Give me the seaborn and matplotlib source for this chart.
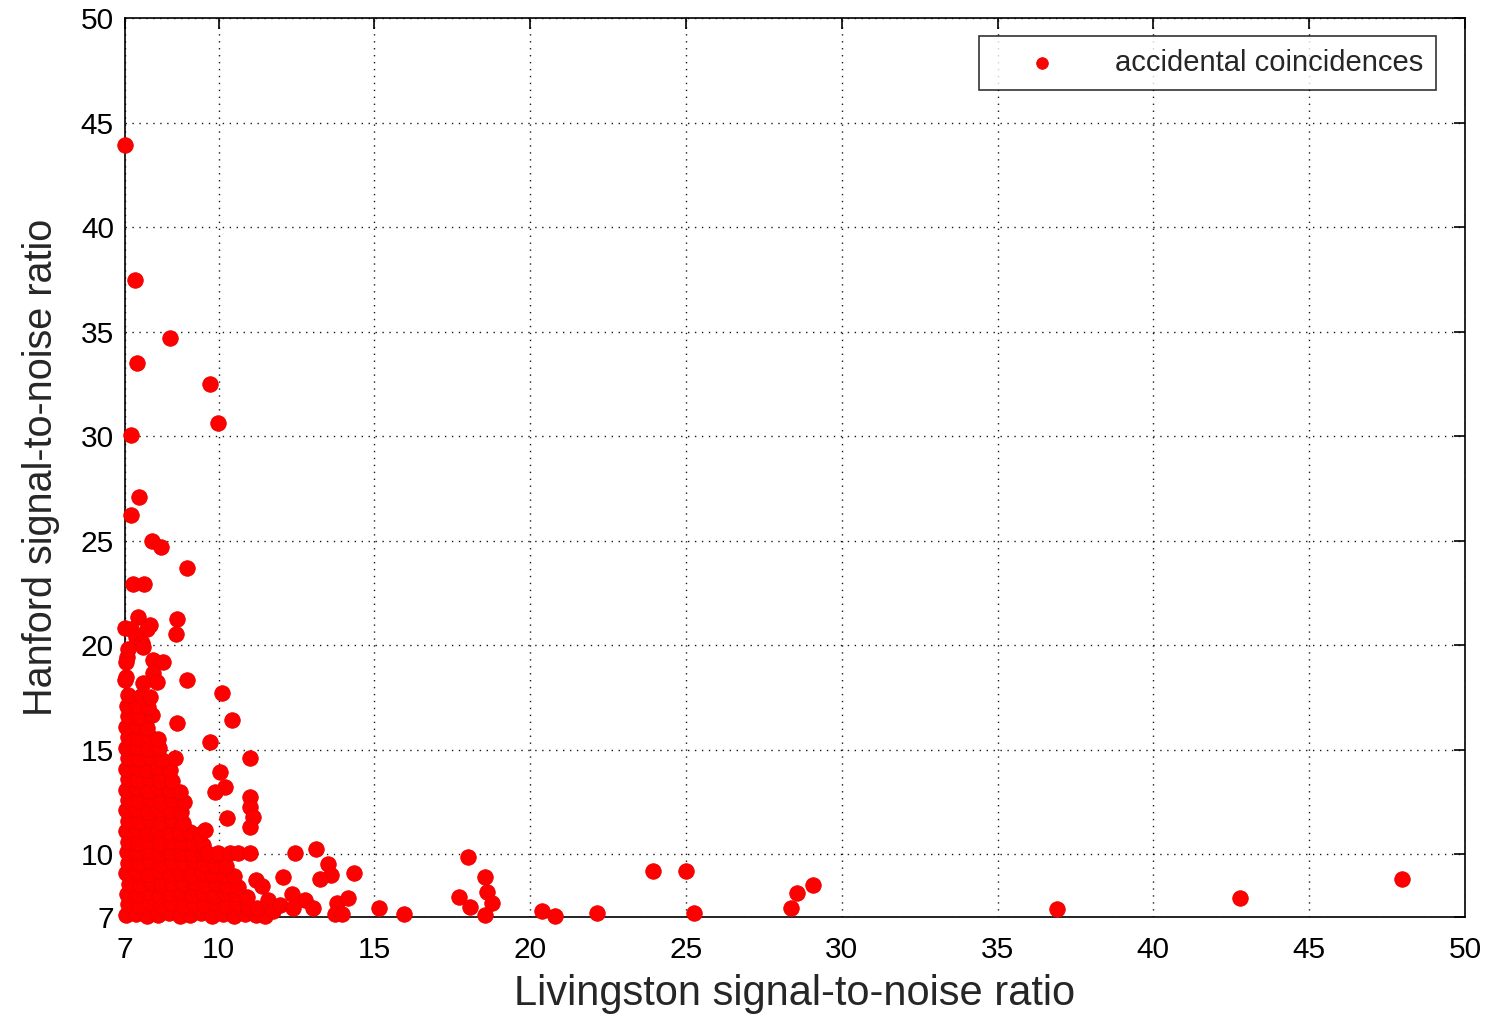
import matplotlib
matplotlib.use("Agg")
import matplotlib.pyplot as plt
import seaborn as sns
import pandas as pd

# ---- data (SNR values) ----
# dense cluster near threshold, row by row
cluster_x = [
    7.02, 7.35, 7.70, 8.05, 8.40, 8.75, 9.10, 9.45, 9.80, 10.15, 10.50, 10.85, 11.20, 11.50,
    7.10, 7.45, 7.80, 8.15, 8.50, 8.85, 9.20, 9.55, 9.90, 10.25, 10.60, 10.95, 11.25,
    7.05, 7.40, 7.75, 8.10, 8.45, 8.80, 9.15, 9.50, 9.85, 10.20, 10.55, 10.90,
    7.12, 7.47, 7.82, 8.17, 8.52, 8.87, 9.22, 9.57, 9.92, 10.27, 10.62,
    7.03, 7.38, 7.73, 8.08, 8.43, 8.78, 9.13, 9.48, 9.83, 10.18, 10.50,
    7.10, 7.45, 7.80, 8.15, 8.50, 8.85, 9.20, 9.55, 9.90, 10.25,
    7.05, 7.40, 7.75, 8.10, 8.45, 8.80, 9.15, 9.50, 9.80,
    7.08, 7.43, 7.78, 8.13, 8.48, 8.83, 9.18, 9.50,
    7.02, 7.37, 7.72, 8.07, 8.42, 8.77, 9.10, 9.40,
    7.10, 7.45, 7.80, 8.15, 8.50, 8.85,
    7.04, 7.39, 7.74, 8.09, 8.44, 8.80,
    7.10, 7.45, 7.80, 8.15, 8.50, 8.90,
    7.03, 7.38, 7.73, 8.08, 8.43, 8.75,
    7.08, 7.43, 7.78, 8.13, 8.50,
    7.02, 7.37, 7.72, 8.07, 8.45,
    7.10, 7.45, 7.80, 8.20, 8.60,
    7.04, 7.39, 7.74, 8.10,
    7.08, 7.43, 7.78, 8.05,
    7.02, 7.37, 7.72,
    7.10, 7.45, 7.85,
    7.05, 7.40, 7.75,
    7.10, 7.50,
]
cluster_y = [
    7.08, 7.15, 7.05, 7.12, 7.20, 7.06, 7.10, 7.18, 7.04, 7.13, 7.07, 7.16, 7.10, 7.05,
    7.62, 7.55, 7.70, 7.58, 7.66, 7.52, 7.64, 7.57, 7.68, 7.55, 7.61, 7.50, 7.45,
    8.10, 8.05, 8.18, 8.02, 8.12, 8.20, 8.06, 8.14, 8.00, 8.16, 8.08, 7.98,
    8.60, 8.55, 8.66, 8.52, 8.62, 8.58, 8.68, 8.54, 8.64, 8.50, 8.45,
    9.10, 9.15, 9.04, 9.18, 9.08, 9.12, 9.02, 9.16, 9.06, 9.00, 8.95,
    9.60, 9.55, 9.66, 9.52, 9.62, 9.58, 9.68, 9.54, 9.50, 9.45,
    10.10, 10.05, 10.16, 10.02, 10.12, 10.08, 10.00, 10.06, 9.98,
    10.60, 10.55, 10.66, 10.52, 10.62, 10.58, 10.50, 10.45,
    11.10, 11.15, 11.04, 11.18, 11.08, 11.00, 11.05, 10.95,
    11.60, 11.55, 11.66, 11.52, 11.62, 11.50,
    12.10, 12.15, 12.04, 12.18, 12.08, 12.00,
    12.60, 12.55, 12.66, 12.52, 12.62, 12.50,
    13.10, 13.15, 13.04, 13.18, 13.08, 13.00,
    13.60, 13.55, 13.66, 13.52, 13.50,
    14.10, 14.15, 14.04, 14.18, 14.05,
    14.60, 14.55, 14.66, 14.52, 14.60,
    15.10, 15.15, 15.04, 15.08,
    15.60, 15.55, 15.66, 15.50,
    16.10, 16.15, 16.04,
    16.60, 16.55, 16.66,
    17.10, 17.15, 17.04,
    17.60, 17.55,
]

# scattered points read individually
scatter_x = [
    7.00, 7.32, 8.44, 7.37, 9.73, 9.99, 7.18, 7.46, 7.18,
    7.86, 8.14, 8.98, 7.27, 7.62, 7.43, 7.00, 7.80, 8.66, 8.63, 7.20, 7.70, 7.35, 7.55,
    7.59, 8.98, 10.10, 7.05, 7.91, 8.23, 7.91, 7.59, 8.02, 7.00, 7.80, 7.02, 7.03, 7.10,
    8.66, 10.42, 9.73, 11.01, 10.05, 10.21, 9.89, 11.01, 11.01, 11.12, 10.26, 11.01, 9.57,
    9.62, 9.99, 10.37, 10.64, 11.01,
    11.20, 11.40, 11.60, 11.75,
    12.45, 13.13, 13.50, 13.60, 13.26, 14.35, 12.07, 12.36, 12.78, 11.97, 12.40, 13.04,
    13.80, 14.16, 13.74, 13.96, 15.15, 15.95,
    18.00, 18.55, 18.62, 18.78, 17.72, 18.07, 18.55, 20.38, 20.80,
    22.15, 23.95, 25.00, 25.26, 28.37, 28.56, 29.08,
    36.91, 42.78, 47.98,
]
scatter_y = [
    43.94, 37.48, 34.69, 33.49, 32.50, 30.65, 30.06, 27.08, 26.23,
    25.00, 24.72, 23.71, 22.93, 22.93, 21.37, 20.81, 20.97, 21.26, 20.54, 20.80, 20.80, 20.40, 20.10,
    19.93, 18.34, 17.73, 19.45, 19.30, 19.22, 18.66, 18.18, 18.26, 18.34, 17.54, 18.50, 19.20, 19.80,
    16.27, 16.43, 15.39, 14.59, 13.95, 13.23, 13.00, 12.76, 12.28, 11.80, 11.72, 11.32, 11.16,
    10.06, 10.06, 10.06, 10.06, 10.06,
    8.77, 8.50, 7.80, 7.30,
    10.06, 10.25, 9.55, 9.00, 8.80, 9.10, 8.90, 8.10, 7.80, 7.57, 7.43, 7.43,
    7.67, 7.90, 7.14, 7.14, 7.43, 7.14,
    9.87, 8.90, 8.20, 7.67, 7.96, 7.48, 7.10, 7.29, 7.05,
    7.19, 9.20, 9.20, 7.19, 7.43, 8.15, 8.53,
    7.38, 7.90, 8.80,
]

x_ticks = [7, 10, 15, 20, 25, 30, 35, 40, 45, 50]
y_ticks = [7, 10, 15, 20, 25, 30, 35, 40, 45, 50]

df = pd.DataFrame({
    "Livingston": cluster_x + scatter_x,
    "Hanford": cluster_y + scatter_y,
})

sns.set_theme(style="white")
plt.rcParams["font.family"] = ["Liberation Sans", "DejaVu Sans"]

fig = plt.figure(figsize=(14.92, 10.16), dpi=100)
ax = fig.add_axes([0.0838, 0.0974, 0.8981, 0.8849])

sns.scatterplot(data=df, x="Livingston", y="Hanford", ax=ax, color="#ff0000",
                edgecolor="#ee0000", linewidth=0.6, s=125, marker="o",
                label="accidental coincidences", zorder=3, clip_on=False)

ax.set_xlim(7, 50)
ax.set_ylim(7, 50)
ax.set_xticks(x_ticks)
ax.set_yticks(y_ticks)
ax.set_xticklabels([str(t) for t in x_ticks])
ax.set_yticklabels([str(t) for t in y_ticks])
ax.grid(True, linestyle=(0, (1, 4)), color="black", linewidth=1.0, alpha=0.9)
ax.set_axisbelow(True)
ax.tick_params(direction="in", length=8, width=1.2, top=True, right=True,
               labelsize=21.5, colors="black")
ax.tick_params(axis="x", pad=14)
ax.tick_params(axis="y", pad=8)
for sp in ax.spines.values():
    sp.set_color("black")
    sp.set_linewidth(1.2)

ax.set_xlabel("Livingston signal-to-noise ratio", fontsize=30, labelpad=7)
ax.set_ylabel("Hanford signal-to-noise ratio", fontsize=28.5, labelpad=15)

leg = ax.legend(loc="upper right", fontsize=21, frameon=True, fancybox=False,
                edgecolor="black", borderpad=0.45, handletextpad=0.8,
                handlelength=3.4, borderaxespad=0, markerscale=0.75,
                bbox_to_anchor=(0.9784, 0.98))
leg.get_frame().set_linewidth(1.2)

fig.savefig("out.png", dpi=100)
